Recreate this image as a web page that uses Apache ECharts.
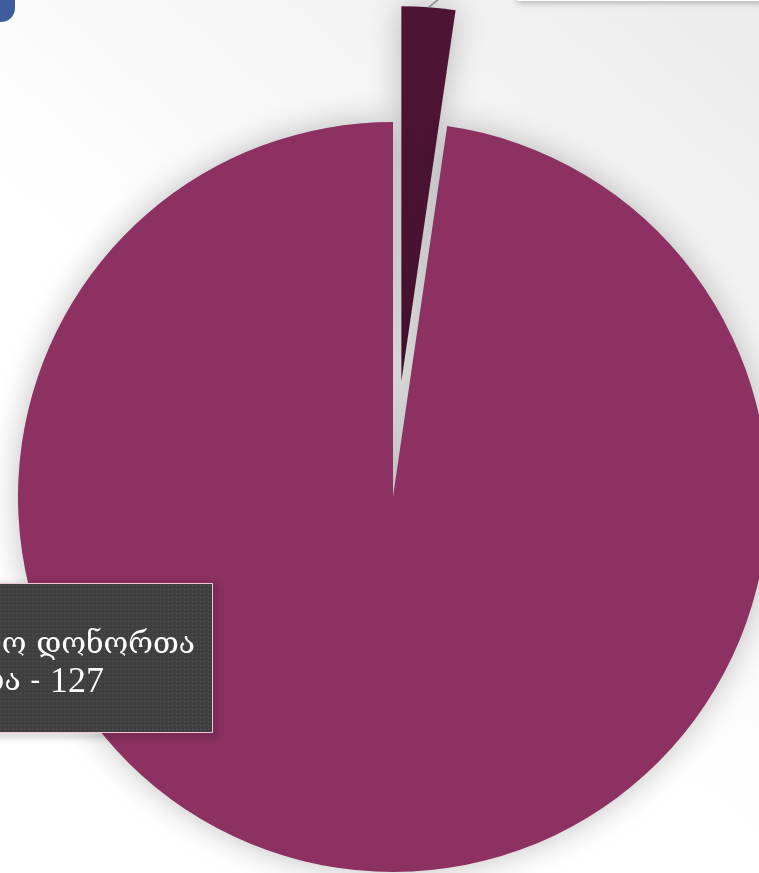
<!DOCTYPE html>
<html><head><meta charset="utf-8">
<script src="https://cdn.jsdelivr.net/npm/echarts@6/dist/echarts.min.js"></script>
<style>html,body{margin:0;padding:0;background:#fff;overflow:hidden}#c{width:759px;height:873px}</style>
</head><body><div id="c"></div>
<script>
// ---- data ----
const categories = ['ფასიანი დონორთა რაოდენობა', 'უსასყიდლო დონორთა რაოდენობა'];
const values = [3, 127];
const sliceColors = ['#4e1434', '#8c3162'];

// ---- layout constants ----
const CENTER = [393, 497], RADIUS = 375, OFFSET = 116;
const GEO_FONT = 'normal normal 30px "DejaVu Serif", "DejaVu Sans", serif';
const NUM_FONT = 'normal normal 36px "Liberation Serif", "DejaVu Serif", serif';
const LH = 37;

function splitName(i) {
  const n = categories[i];
  const k = n.lastIndexOf(' ');
  return [n.slice(0, k), n.slice(k + 1) + ' - '];
}
function richLabel(i) {
  const p = splitName(i);
  return '{g|' + p[0] + '}\n{g|' + p[1] + '}{n|' + values[i] + '}';
}
const mctx = document.createElement('canvas').getContext('2d');
function tw(t, f) { mctx.font = f; return mctx.measureText(t).width; }
const bp = splitName(1);
const L1 = tw(bp[0], GEO_FONT);
const L2 = tw(bp[1], GEO_FONT) + tw(String(values[1]), NUM_FONT);
const maxW = Math.max(L1, L2);
const padL = 14, padT = 43, padB = 31;
const textStart = 195 - L1;
const padR = Math.max(6, 212 - (textStart + maxW));
const boxX = textStart - padL;
const boxW = Math.round(maxW + padL + padR);
const boxH = padT + padB + LH * 2;

function dots(w, h) {
  const c = document.createElement('canvas');
  c.width = w; c.height = h;
  const g = c.getContext('2d');
  g.fillStyle = '#3f3f3f'; g.fillRect(0, 0, w, h);
  g.fillStyle = '#535353';
  for (let y = 1; y < h; y += 4) for (let x = 1; x < w; x += 4) g.fillRect(x, y, 1.3, 1.3);
  return c;
}

// leader line start: outer-arc midpoint of the exploded small slice (from data)
const total = values.reduce((a, b) => a + b, 0);
const midA = (values[0] / total) * Math.PI;
const px = CENTER[0] + (RADIUS + OFFSET) * Math.sin(midA);
const py = CENTER[1] - (RADIUS + OFFSET) * Math.cos(midA);

const chart = echarts.init(document.getElementById('c'), null, {renderer: 'canvas'});
chart.setOption({
  animation: false,
  backgroundColor: {
    type: 'linear', x: 0, y: 1, x2: 1, y2: 0,
    colorStops: [{offset: 0, color: '#ffffff'}, {offset: 0.45, color: '#ffffff'}, {offset: 1, color: '#ebebeb'}]
  },
  graphic: [
    {type: 'rect', z: 1, shape: {x: -30, y: -30, width: 45, height: 52, r: 14}, style: {fill: '#3e5c9c'}},
    {type: 'polyline', z: 100,
      shape: {points: [[px, py], [px + 30, py - 24], [517, py - 24]]},
      style: {stroke: '#8a8a8a', lineWidth: 1.5, fill: null}},
    {type: 'text', z: 101, x: 517, y: 1,
      style: {
        text: richLabel(0), align: 'left', verticalAlign: 'bottom',
        rich: {
          g: {font: GEO_FONT, fill: '#333333', lineHeight: LH},
          n: {font: NUM_FONT, fill: '#333333', lineHeight: LH}
        },
        backgroundColor: '#ffffff', padding: [30, 40, 30, 20],
        shadowColor: 'rgba(0,0,0,0.25)', shadowBlur: 6, shadowOffsetY: 2
      }},
    {type: 'text', z: 101, x: boxX, y: 584,
      style: {
        text: richLabel(1), align: 'left', verticalAlign: 'top',
        rich: {
          g: {font: GEO_FONT, fill: '#ffffff', lineHeight: LH},
          n: {font: NUM_FONT, fill: '#ffffff', lineHeight: LH}
        },
        backgroundColor: {image: dots(boxW, boxH)},
        borderColor: '#efc6d8', borderWidth: 2,
        padding: [padT, padR, padB, padL],
        shadowColor: 'rgba(0,0,0,0.55)', shadowBlur: 7, shadowOffsetX: 3, shadowOffsetY: 3
      }}
  ],
  series: [{
    type: 'pie',
    center: CENTER,
    radius: RADIUS,
    startAngle: 90,
    clockwise: true,
    selectedMode: 'single',
    selectedOffset: OFFSET,
    itemStyle: {shadowBlur: 32, shadowColor: 'rgba(0,0,0,0.25)'},
    emphasis: {disabled: true},
    label: {show: false},
    labelLine: {show: false},
    data: categories.map((n, i) => ({
      name: n, value: values[i], selected: i === 0,
      itemStyle: {color: sliceColors[i]}
    }))
  }]
});
</script></body></html>
